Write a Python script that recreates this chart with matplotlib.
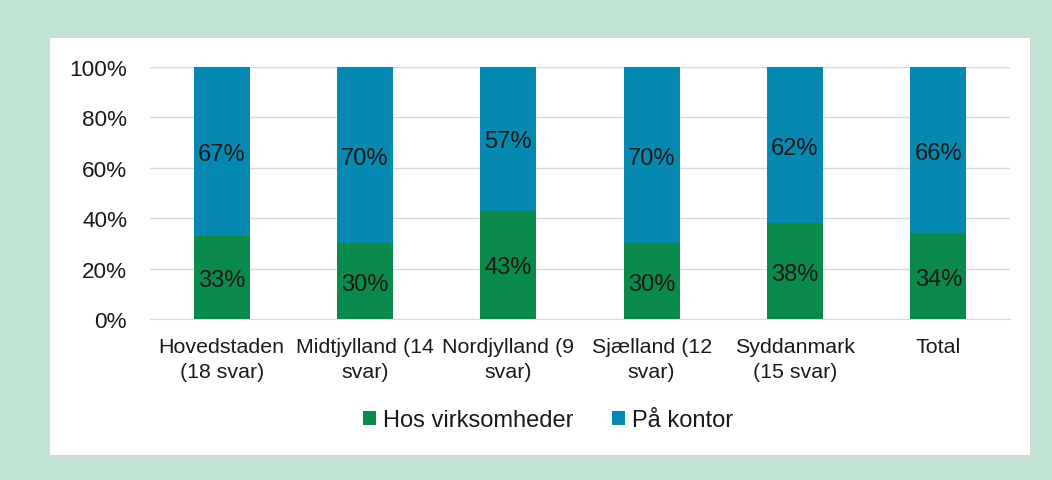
import matplotlib
matplotlib.use("Agg")
import matplotlib.pyplot as plt
from matplotlib.patches import Rectangle

categories = ["Hovedstaden\n(18 svar)", "Midtjylland (14\nsvar)", "Nordjylland (9\nsvar)",
              "Sjælland (12\nsvar)", "Syddanmark\n(15 svar)", "Total"]
hos = [33, 30, 43, 30, 38, 34]
kontor = [67, 70, 57, 70, 62, 66]
series_names = ["Hos virksomheder", "På kontor"]
yticks = [0, 20, 40, 60, 80, 100]

GREEN = "#0A8A4B"
BLUE = "#0589B1"

plt.rcParams['font.family'] = ['Liberation Sans', 'DejaVu Sans']
W, H = 1052, 481
fig = plt.figure(figsize=(W/100, H/100), dpi=100)
fig.patch.set_facecolor("#C0E3D3")

# white panel with light shadow
fig.patches.append(Rectangle((50/W, 1-458/H), 981/W, 420/H, transform=fig.transFigure,
                             facecolor="#D4D4D4", edgecolor="none", zorder=-2))
fig.patches.append(Rectangle((50/W, 1-456/H), 980/W, 417/H, transform=fig.transFigure,
                             facecolor="white", edgecolor="none", zorder=-1))

ax = fig.add_axes([150/W, 1-320/H, 860/W, 252/H])
ax.set_zorder(2)
ax.set_facecolor("none")
x = list(range(len(categories)))
bw = 0.39
ax.bar(x, hos, width=bw, color=GREEN, label=series_names[0], zorder=3)
ax.bar(x, kontor, width=bw, bottom=hos, color=BLUE, label=series_names[1], zorder=3)

for i in x:
    ax.text(i, hos[i]/2, f"{hos[i]}%", ha="center", va="center_baseline", fontsize=17, color="#1a1a1a", zorder=4)
    ax.text(i, hos[i] + kontor[i]/2, f"{kontor[i]}%", ha="center", va="center_baseline", fontsize=17, color="#1a1a1a", zorder=4)

ax.set_xlim(-0.5, len(categories)-0.5)
ax.set_ylim(0, 100)
ax.set_yticks(yticks)
ax.set_yticklabels([f"{t}%" for t in yticks], fontsize=16.2, color="#1a1a1a")
ax.set_xticks(x)
ax.set_xticklabels(categories, fontsize=15.4, color="#1a1a1a", linespacing=1.38)
ax.tick_params(axis="both", length=0)
ax.tick_params(axis="x", pad=13)
ax.tick_params(axis="y", pad=16.5)
ax.grid(axis="y", color="#D9D9D9", linewidth=1, zorder=0)
for s in ["top", "right", "left"]:
    ax.spines[s].set_visible(False)
ax.spines["bottom"].set_color("#D9D9D9")

leg = fig.legend(loc="center", bbox_to_anchor=(548/W, 1-421/H), ncol=2, frameon=False,
                 fontsize=17, handlelength=0.55, handleheight=0.55, handletextpad=0.3,
                 columnspacing=1.6)
leg.set_zorder(3)
for t in leg.get_texts():
    t.set_color("#1a1a1a")

fig.savefig("out.png", dpi=100, facecolor=fig.get_facecolor())
